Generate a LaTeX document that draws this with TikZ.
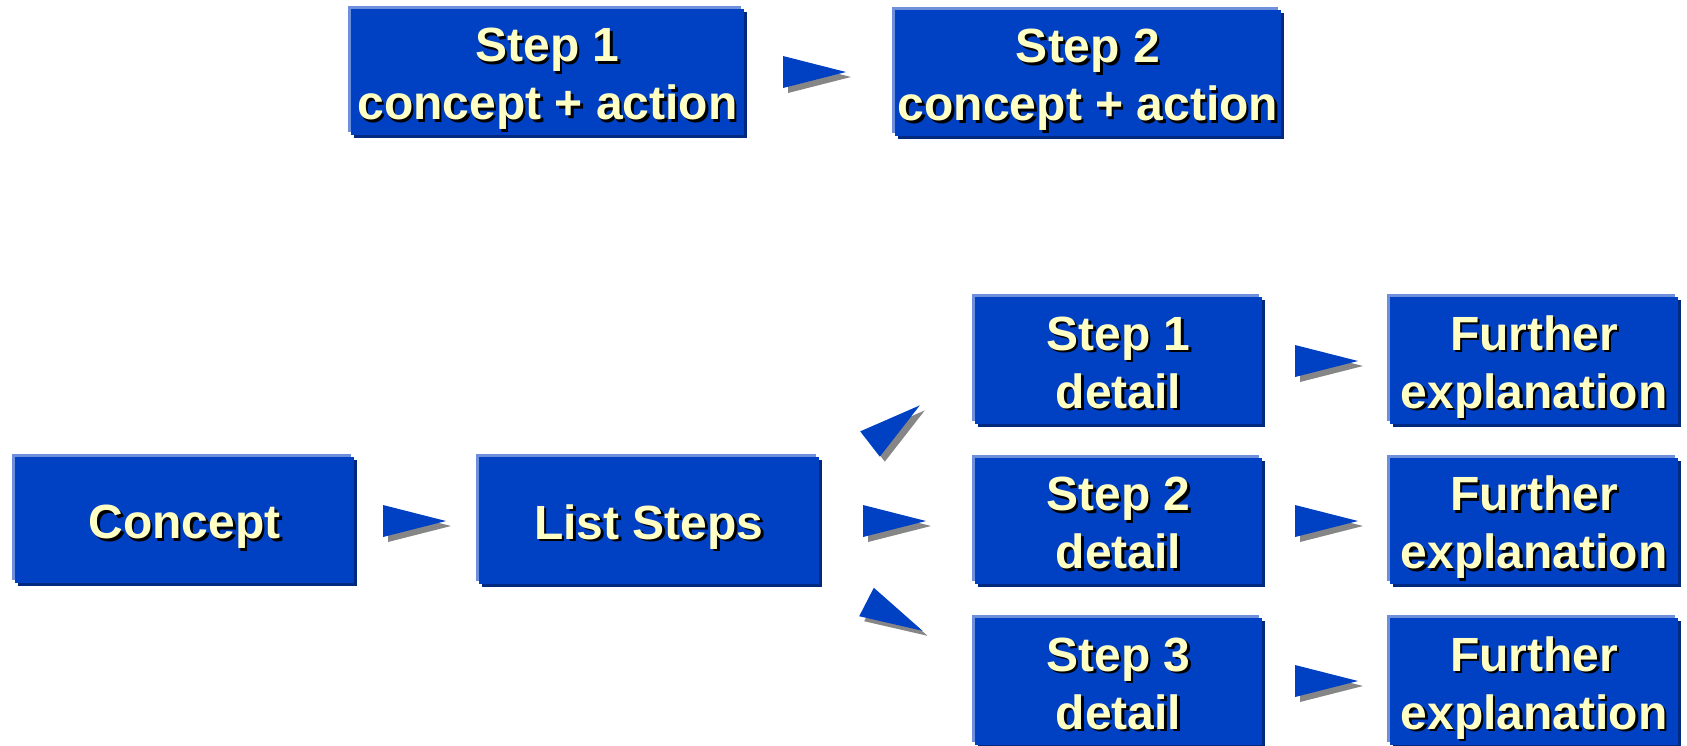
\documentclass[tikz,border=0pt]{standalone}
\usepackage{fontspec}
\setmainfont{Liberation Sans}
\usetikzlibrary{shadows}
\definecolor{boxblue}{HTML}{0041C4}
\definecolor{lightedge}{HTML}{6D8FDC}
\definecolor{darkedge}{HTML}{00297F}
\definecolor{textcream}{HTML}{FFFFC4}
\definecolor{ptrshadow}{HTML}{868686}
\newcommand\mytab[1]{\begin{tabular}{@{}c@{}}#1\end{tabular}}
\newcommand\mybt[1]{\raisebox{-8.5pt}[\height][\depth]{\rlap{\kern2.5pt\raisebox{-2.5pt}{\color{black}\mytab{#1}}}\mytab{#1}}}
\newcommand\myptr[3]{%
  \begin{scope}[shift={(#1+5,#2+5)},rotate=#3]
    \fill[ptrshadow] (0,-16) -- (63,0) -- (0,16) -- cycle;
  \end{scope}
  \begin{scope}[shift={(#1,#2)},rotate=#3]
    \fill[boxblue] (0,-16) -- (63,0) -- (0,16) -- cycle;
  \end{scope}}
\tikzset{
  bluebox/.style={rectangle, fill=boxblue, draw=none, inner sep=0pt,
    general shadow={fill=lightedge, shadow xshift=-3pt, shadow yshift=3pt},
    general shadow={fill=darkedge, shadow xshift=3pt, shadow yshift=-3pt},
    text=textcream, font=\fontsize{48}{58}\selectfont\bfseries}
}
\begin{document}
\begin{tikzpicture}[x=1pt,y=-1pt]
\useasboundingbox (0,0) rectangle (1687,745);
\clip (0,0) rectangle (1687,745);
% top row
\node[bluebox, minimum width=393pt, minimum height=126pt] (t1) at (547.5,72) {\mybt{Step 1\\concept + action}};
\node[bluebox, minimum width=386pt, minimum height=126pt] (t2) at (1088,73) {\mybt{Step 2\\concept + action}};
% bottom
\node[bluebox, minimum width=339pt, minimum height=126pt] (c) at (184.5,520) {\mybt{Concept}};
\node[bluebox, minimum width=340pt, minimum height=127pt] (l) at (649,520.5) {\mybt{List Steps}};
\node[bluebox, minimum width=287pt, minimum height=127pt] (d1) at (1118.5,360.5) {\mybt{Step 1\\detail}};
\node[bluebox, minimum width=287pt, minimum height=126pt] (d2) at (1118.5,521) {\mybt{Step 2\\detail}};
\node[bluebox, minimum width=287pt, minimum height=127pt] (d3) at (1118.5,681.5) {\mybt{Step 3\\detail}};
\node[bluebox, minimum width=288pt, minimum height=127pt] (f1) at (1534,360.5) {\mybt{Further\\explanation}};
\node[bluebox, minimum width=288pt, minimum height=126pt] (f2) at (1534,521) {\mybt{Further\\explanation}};
\node[bluebox, minimum width=288pt, minimum height=127pt] (f3) at (1534,681.5) {\mybt{Further\\explanation}};
% pointers
\myptr{783}{72}{0}
\myptr{383}{521}{0}
\myptr{863}{521}{0}
\myptr{870}{444}{37.8}
\myptr{866.5}{602}{-27.2}
\myptr{1295}{361}{0}
\myptr{1295}{521}{0}
\myptr{1295}{681}{0}
\end{tikzpicture}
\end{document}
